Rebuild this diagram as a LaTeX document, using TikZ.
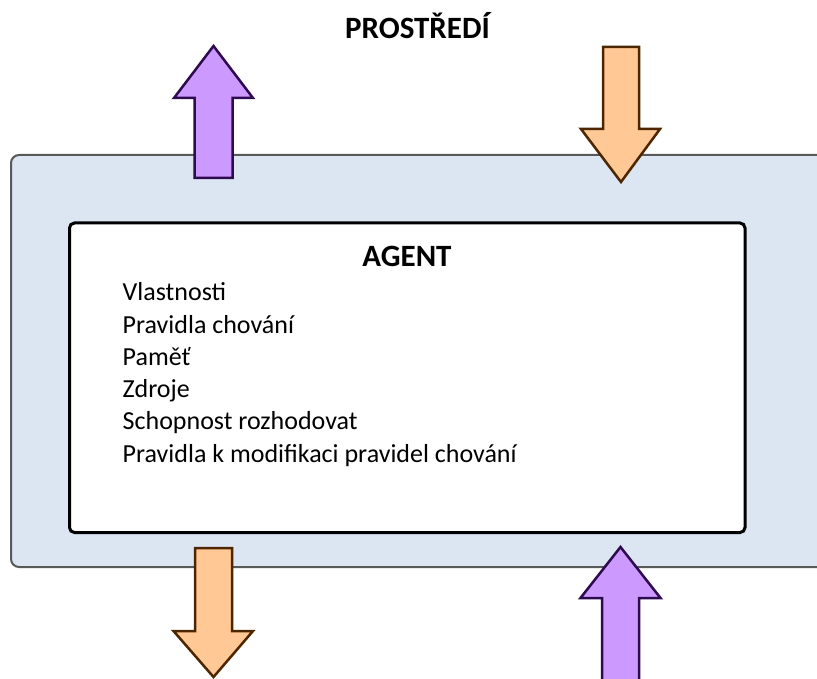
\documentclass[tikz,border=0pt]{standalone}
\usepackage{fontspec}
\setmainfont{Carlito}
\definecolor{envfill}{HTML}{DCE6F2}
\definecolor{envline}{HTML}{595959}
\definecolor{purfill}{HTML}{CC99FF}
\definecolor{purline}{HTML}{2E0A4E}
\definecolor{orfill}{HTML}{FFC894}
\definecolor{orline}{HTML}{4D2600}
\begin{document}
\begin{tikzpicture}[x=1pt,y=-1pt,
  envbox/.style={draw=envline,fill=envfill,line width=2pt,rounded corners=8pt},
  agentbox/.style={draw=black,fill=white,line width=3pt,rounded corners=5pt},
  purarrow/.style={draw=purline,fill=purfill,line width=2.5pt,line join=miter},
  orarrow/.style={draw=orline,fill=orfill,line width=2.5pt,line join=miter},
  item/.style={anchor=base west,inner sep=0pt,font=\fontsize{26}{32}\selectfont},
  title/.style={inner sep=0pt,font=\fontsize{31}{37}\selectfont\bfseries}]
\useasboundingbox (0,0) rectangle (817,679);
\clip (0,0) rectangle (817,679);
% environment box
\draw[envbox] (11,155) rectangle (850,567);
% agent box
\draw[agentbox] (69.5,223) rectangle (745,532.5);
% top-left purple arrow (up)
\draw[purarrow] (194.5,178) -- (194.5,98) -- (174,98) -- (213.5,46) -- (253,98) -- (232.5,98) -- (232.5,178) -- cycle;
% top-right orange arrow (down)
\draw[orarrow] (603,47) -- (603,129) -- (581,129) -- (621,182) -- (660,129) -- (639,129) -- (639,47) -- cycle;
% bottom-left orange arrow (down)
\draw[orarrow] (195,548) -- (195,631) -- (173.5,631) -- (213.5,677) -- (253,631) -- (232,631) -- (232,548) -- cycle;
% bottom-right purple arrow (up)
\draw[purarrow] (602,700) -- (602,598) -- (580.5,598) -- (620.5,547) -- (660.5,598) -- (639,598) -- (639,700) -- cycle;
% texts
\node[title,anchor=base] (env) at (417.5,39) {PROSTŘEDÍ};
\node[title,anchor=base] (agent) at (407,266) {AGENT};
\node[item] (i1) at (122.5,300.7) {Vlastnosti};
\node[item] (i2) at (122.5,333) {Pravidla chování};
\node[item] (i3) at (122.5,365.3) {Paměť};
\node[item] (i4) at (122.5,397.6) {Zdroje};
\node[item] (i5) at (122.5,429.9) {Schopnost rozhodovat};
\node[item] (i6) at (122.5,462.2) {Pravidla k modifikaci pravidel chování};
\end{tikzpicture}
\end{document}
